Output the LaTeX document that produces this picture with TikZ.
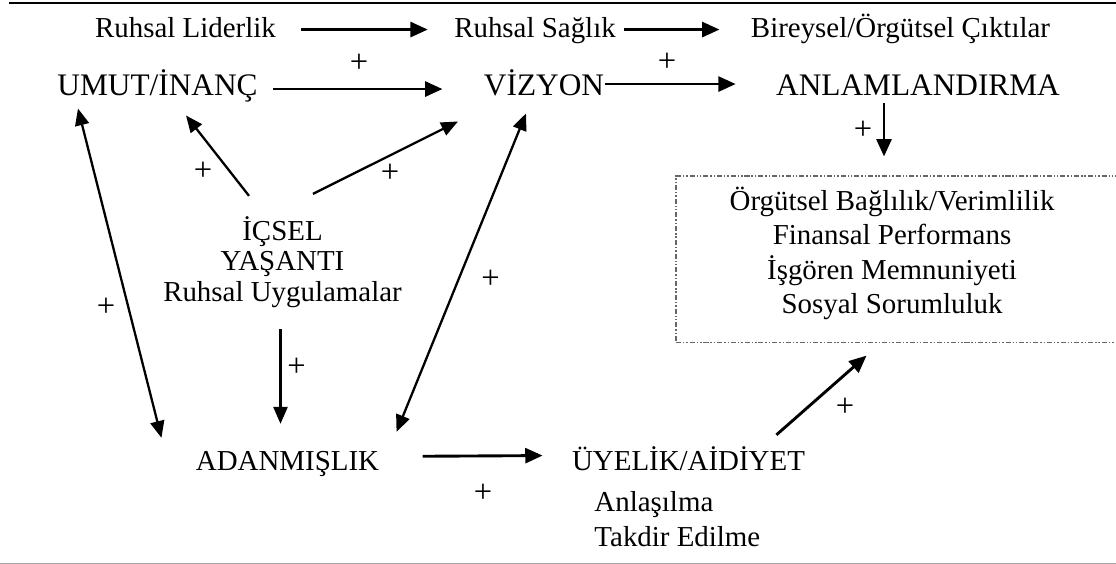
\documentclass[tikz,border=0pt]{standalone}
\usepackage{fontspec}
\setmainfont{Liberation Serif}
\usetikzlibrary{arrows.meta, positioning, calc}

\begin{document}
\begin{tikzpicture}[
    x=0.415pt, y=-0.415pt,
    node distance=5.4pt,
    etiket/.style={inner sep=0pt, text height=0.7em, text depth=0pt, font=\fontsize{12}{14.3}\selectfont},
    baslik/.style={etiket, font=\fontsize{13}{15.5}\selectfont, text height=0.66em},
    arti/.style={inner sep=0pt, font=\fontsize{13.5}{15}\selectfont},
    ok/.style={-{Triangle[length=7.2pt, width=6.2pt]}, line width=1.2pt},
    inceok/.style={-{Triangle[length=7pt, width=5.8pt]}, line width=0.95pt},
    ciftok/.style={{Triangle[length=7pt, width=5.8pt]}-{Triangle[length=7pt, width=5.8pt]}, line width=0.95pt},
    sonucbox/.style={draw=black!60, line width=0.45pt, dash pattern=on 2.1pt off 0.8pt on 0.6pt off 0.8pt on 0.6pt off 0.8pt, minimum width=183pt, minimum height=69.2pt, inner sep=0pt},
  ]
  \useasboundingbox (0,0) rectangle (1116,564);
  \draw[line width=1pt] (9,3) -- (1116,3);
  \draw[black!35, line width=0.6pt] (0,563.3) -- (1116,563.3);
  % ust satir
  \node[etiket, anchor=base] (lider) at (185.5,38) {Ruhsal Liderlik};
  \node[etiket, anchor=base] (saglik) at (535,38) {Ruhsal Sağlık};
  \node[etiket, anchor=base] (cikti) at (900.5,38) {Bireysel/Örgütsel Çıktılar};
  \node[baslik, anchor=base] (umut) at (157.5,96) {UMUT/İNANÇ};
  \node[baslik, anchor=base] (vizyon) at (544,96) {VİZYON};
  \node[baslik, anchor=base] (anlam) at (918,96) {ANLAMLANDIRMA};
  % orta
  \node[etiket, anchor=base] (icsel) at (282.5,240) {İÇSEL};
  \node[etiket, below=of icsel] (yasanti) {YAŞANTI};
  \node[etiket, below=of yasanti] (uygulama) {Ruhsal Uygulamalar};
  \node[sonucbox] (sonuc) at (896.5,259.4) {};
  \node[inner sep=0pt, align=center, font=\fontsize{12}{14.3}\selectfont] (sonucyazi) at (892,253.5) {Örgütsel Bağlılık/Verimlilik\\Finansal Performans\\İşgören Memnuniyeti\\Sosyal Sorumluluk};
  % alt satir
  \node[etiket, anchor=base] (adanmis) at (287.5,470.7) {ADANMIŞLIK};
  \node[etiket, anchor=base] (uyelik) at (688.5,470) {ÜYELİK/AİDİYET};
  \node[etiket, anchor=base west] (anlasilma) at (594,511) {Anlaşılma};
  \node[etiket, below=7.2pt of anlasilma.south west, anchor=north west] (takdir) {Takdir Edilme};
  \foreach \px/\py [count=\i] in {359/63, 667/62, 863/130, 203/171, 390/173, 106/307, 490.6/279, 296.6/367, 483/493, 845/407}
    \node[arti] (arti\i) at (\px,\py) {+};
  % oklar
  \draw[ok] ($(lider.east)+(25,0)$) -- ($(saglik.west)+(-26,0)$);
  \draw[ok] ($(saglik.east)+(8,0)$) -- ($(cikti.west)+(-31,0)$);
  \draw[ok] ($(umut.east)+(15,1)$) -- ($(vizyon.west)+(-41,1)$);
  \draw[ok] ($(vizyon.east)+(0,-4)$) -- ($(anlam.west)+(-40,-4)$);
  \draw[ok] ($(adanmis.east)+(43,-6)$) -- ($(uyelik.west)+(-29,-6)$);
  \draw[ok] ($(anlam.south)+(-34,7)$) -- ($(sonuc.north)+(-12.5,-19)$);
  \draw[ok] ($(uyelik.north east)+(-29,-17.8)$) -- ($(sonuc.south)+(-30,12.3)$);
  \draw[inceok] ($(icsel.north)+(-33.5,-26.8)$) -- ($(umut.south)+(28.5,19)$);
  \draw[inceok] ($(icsel.north)+(30.5,-28.8)$) -- ($(vizyon.south)+(-86,25)$);
  \draw[inceok] ($(uygulama.south)+(-2,27)$) -- ($(adanmis.north)+(-7,-29.5)$);
  \draw[ciftok] ($(umut.south west)+(21,12)$) -- ($(adanmis.north west)+(-34,-15.5)$);
  \draw[ciftok] ($(vizyon.south)+(-18,17)$) -- ($(adanmis.north east)+(17,-21.5)$);
\end{tikzpicture}
\end{document}
